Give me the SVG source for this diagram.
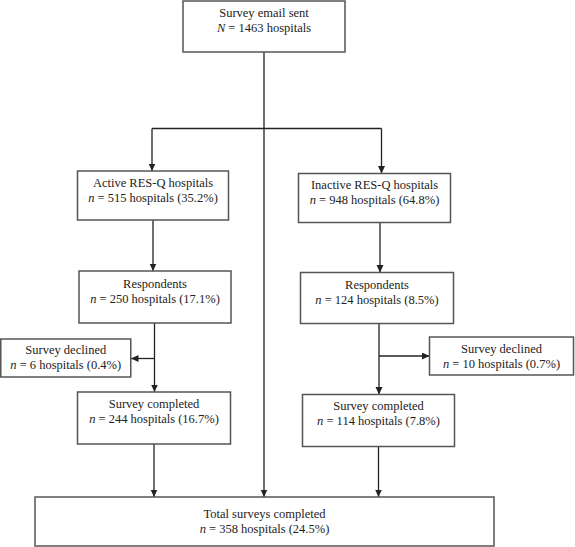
<svg xmlns="http://www.w3.org/2000/svg" width="575" height="547" viewBox="0 0 575 547">
<style>
.box{fill:#fff;stroke:#555;stroke-width:1.5}
.ln{fill:none;stroke:#222;stroke-width:1.3}
text{font-family:"Liberation Serif","Times New Roman",serif;font-size:12.5px;fill:#222;text-anchor:middle}
.i{font-style:italic}
</style>
<defs>
<marker id="ah" markerUnits="userSpaceOnUse" markerWidth="8" markerHeight="8" refX="7.5" refY="3.5" orient="auto">
<path d="M0,0 L7.5,3.5 L0,7 z" fill="#222"/>
</marker>
</defs>
<rect width="575" height="547" fill="#fff"/>
<g id="connectors">
<path class="ln" d="M264 52 V497" marker-end="url(#ah)"/>
<path class="ln" d="M152 128.5 H381.5"/>
<path class="ln" d="M152 128.5 V171" marker-end="url(#ah)"/>
<path class="ln" d="M381.5 128.5 V173.5" marker-end="url(#ah)"/>
<path class="ln" d="M153 220 V271" marker-end="url(#ah)"/>
<path class="ln" d="M154.5 323 V392" marker-end="url(#ah)"/>
<path class="ln" d="M154.5 358.5 H131" marker-end="url(#ah)"/>
<path class="ln" d="M154 444 V497" marker-end="url(#ah)"/>
<path class="ln" d="M380 222.5 V272.5" marker-end="url(#ah)"/>
<path class="ln" d="M379 323.5 V394.5" marker-end="url(#ah)"/>
<path class="ln" d="M379 356 H429.5" marker-end="url(#ah)"/>
<path class="ln" d="M378.5 446.5 V497" marker-end="url(#ah)"/>
</g>
<g id="sent">
<rect class="box" x="183" y="1" width="162" height="51"/>
<text x="264" y="17">Survey email sent</text>
<text x="264" y="31.5"><tspan class="i">N</tspan> = 1463 hospitals</text>
</g>
<g id="active">
<rect class="box" x="77.5" y="171" width="151" height="49"/>
<text x="153" y="186.5">Active RES-Q hospitals</text>
<text x="153" y="202"><tspan class="i">n</tspan> = 515 hospitals (35.2%)</text>
</g>
<g id="inactive">
<rect class="box" x="298.5" y="173.5" width="152" height="49"/>
<text x="374.5" y="189">Inactive RES-Q hospitals</text>
<text x="374.5" y="204"><tspan class="i">n</tspan> = 948 hospitals (64.8%)</text>
</g>
<g id="resp-left">
<rect class="box" x="79" y="271" width="152" height="52"/>
<text x="155" y="287.5">Respondents</text>
<text x="155" y="303"><tspan class="i">n</tspan> = 250 hospitals (17.1%)</text>
</g>
<g id="resp-right">
<rect class="box" x="300.5" y="272.5" width="153" height="51"/>
<text x="377" y="288.5">Respondents</text>
<text x="377" y="303.5"><tspan class="i">n</tspan> = 124 hospitals (8.5%)</text>
</g>
<g id="declined-left">
<rect class="box" x="0.75" y="339" width="130" height="38"/>
<text x="65.75" y="354">Survey declined</text>
<text x="65.75" y="369"><tspan class="i">n</tspan> = 6 hospitals (0.4%)</text>
</g>
<g id="declined-right">
<rect class="box" x="429.5" y="337" width="144" height="38"/>
<text x="501.5" y="352.5">Survey declined</text>
<text x="501.5" y="367.5"><tspan class="i">n</tspan> = 10 hospitals (0.7%)</text>
</g>
<g id="completed-left">
<rect class="box" x="77.5" y="392" width="153" height="52"/>
<text x="154" y="407.5">Survey completed</text>
<text x="154" y="422.5"><tspan class="i">n</tspan> = 244 hospitals (16.7%)</text>
</g>
<g id="completed-right">
<rect class="box" x="302.5" y="394.5" width="152" height="52"/>
<text x="378.5" y="410">Survey completed</text>
<text x="378.5" y="425"><tspan class="i">n</tspan> = 114 hospitals (7.8%)</text>
</g>
<g id="total">
<rect class="box" x="35" y="497" width="459" height="49"/>
<text x="264.5" y="517.5">Total surveys completed</text>
<text x="264.5" y="533"><tspan class="i">n</tspan> = 358 hospitals (24.5%)</text>
</g>
</svg>
